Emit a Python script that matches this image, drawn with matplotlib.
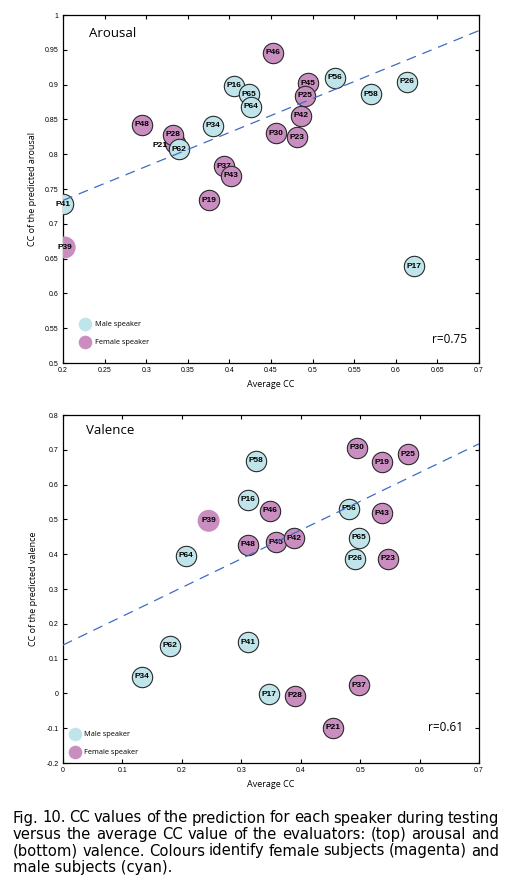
import numpy as np
import matplotlib.pyplot as plt
from matplotlib.lines import Line2D

# --- arousal panel data (draw order: later points on top) ---
ar_names = ['P41', 'P39', 'P48', 'P21', 'P28', 'P62', 'P34', 'P19', 'P37', 'P43',
            'P16', 'P65', 'P64', 'P46', 'P30', 'P23', 'P42', 'P45', 'P25', 'P56',
            'P58', 'P26', 'P17']
ar_avg = [0.200, 0.202, 0.295, 0.335, 0.332, 0.339, 0.380, 0.376, 0.3935, 0.402,
          0.406, 0.424, 0.426, 0.452, 0.456, 0.481, 0.486, 0.494, 0.491, 0.527,
          0.570, 0.613, 0.622]
ar_pred = [0.728, 0.666, 0.842, 0.816, 0.828, 0.807, 0.841, 0.734, 0.783, 0.769,
           0.898, 0.886, 0.868, 0.946, 0.830, 0.824, 0.855, 0.902, 0.884, 0.910,
           0.886, 0.904, 0.639]
ar_sex = ['M', 'F', 'F', 'F', 'F', 'M', 'M', 'F', 'F', 'F',
          'M', 'M', 'M', 'F', 'F', 'F', 'F', 'F', 'F', 'M',
          'M', 'M', 'M']
ar_fit = (0.488, 0.636)   # slope, intercept of dashed line
ar_r = 0.75

# --- valence panel data ---
va_names = ['P34', 'P62', 'P64', 'P39', 'P41', 'P58', 'P16', 'P46', 'P48', 'P45',
            'P42', 'P17', 'P28', 'P21', 'P37', 'P30', 'P19', 'P25', 'P56', 'P43',
            'P65', 'P26', 'P23']
va_avg = [0.1335, 0.1806, 0.2075, 0.245, 0.311, 0.324, 0.311, 0.348, 0.311, 0.358,
          0.389, 0.3466, 0.390, 0.454, 0.498, 0.495, 0.536, 0.581, 0.481, 0.537,
          0.498, 0.492, 0.547]
va_pred = [0.048, 0.137, 0.395, 0.496, 0.147, 0.668, 0.556, 0.525, 0.427, 0.435,
           0.446, -0.002, -0.007, -0.099, 0.023, 0.706, 0.664, 0.687, 0.530, 0.517,
           0.447, 0.387, 0.387]
va_sex = ['M', 'M', 'M', 'F', 'M', 'M', 'M', 'F', 'F', 'F',
          'F', 'M', 'F', 'F', 'F', 'F', 'F', 'F', 'M', 'F',
          'M', 'M', 'F']
va_fit = (0.826, 0.139)
va_r = 0.61

no_edge = ['P39']
label_shift = {'P21': (-11, -2)}   # label drawn beside its hidden circle (arousal)

caption_lines = [
    "Fig. 10. CC values of the prediction for each speaker during testing",
    "versus the average CC value of the evaluators: (top) arousal and",
    "(bottom) valence. Colours identify female subjects (magenta) and",
    "male subjects (cyan).",
]

male_c = '#bfe5ea'
female_c = '#c98dc0'
line_c = '#3d6cc6'
lab_font = 'Open Sans'
tick_font = 'Liberation Sans'


def panel(ax, names, avg, pred, sex, fit, r, title, xlim, ylim, xticks, yticks,
          ylabel, leg_anchor, title_xy, r_xy, shift):
    for i, (n, x, y, s) in enumerate(zip(names, avg, pred, sex)):
        col = male_c if s == 'M' else female_c
        if n in no_edge:
            ax.scatter(x, y, s=250, c=col, edgecolors='none', zorder=3 + 2 * i)
        else:
            ax.scatter(x, y, s=215, c=col, edgecolors='#2a2a2a', linewidths=0.8,
                       zorder=3 + 2 * i)
        off = shift.get(n, (0, 0))
        ax.annotate(n, (x, y), xytext=off, textcoords='offset points',
                    ha='center', va='center', fontsize=6, fontweight='bold',
                    family=tick_font, zorder=200 if n in shift else 4 + 2 * i)

    xs = np.array(xlim)
    ax.plot(xs, fit[0] * xs + fit[1], color=line_c, lw=0.9,
            linestyle=(0, (8, 5.5)), zorder=150)

    ax.set_xlim(xlim)
    ax.set_ylim(ylim)
    ax.set_xticks(xticks)
    ax.set_xticklabels([f'{v:g}' for v in np.round(xticks, 2)])
    ax.set_yticks(yticks)
    ax.set_yticklabels([f'{v:g}' for v in np.round(yticks, 2)])
    ax.tick_params(direction='in', top=True, right=True, length=3, width=0.8,
                   labelsize=5, pad=3)
    for lab in ax.get_xticklabels() + ax.get_yticklabels():
        lab.set_family(tick_font)
    for sp in ax.spines.values():
        sp.set_linewidth(0.9)

    ax.set_xlabel('Average CC', family=lab_font, fontsize=6.5, labelpad=4)
    ax.set_ylabel(ylabel, family=lab_font, fontsize=6.5, labelpad=6)
    ax.text(title_xy[0], title_xy[1], title, family=lab_font, fontsize=9.5,
            ha='left', va='center')
    ax.text(r_xy[0], r_xy[1], f'r={r}', family=lab_font, fontsize=8.5,
            ha='right', va='center')

    handles = [Line2D([], [], marker='o', ls='none', markersize=9.8,
                      markerfacecolor=male_c, markeredgecolor='none'),
               Line2D([], [], marker='o', ls='none', markersize=9.8,
                      markerfacecolor=female_c, markeredgecolor='none')]
    leg = ax.legend(handles, ['Male speaker', 'Female speaker'], loc='upper left',
                    bbox_to_anchor=leg_anchor, frameon=False, borderpad=0,
                    borderaxespad=0, handlelength=1.0, handletextpad=0.8,
                    labelspacing=1.45, prop={'family': lab_font, 'size': 5.3})
    leg.set_zorder(300)


fig = plt.figure(figsize=(5.08, 8.83), dpi=100)
W, H = 508, 883
ax1 = fig.add_axes([63 / W, 1 - 363 / H, 416 / W, 348 / H])
ax2 = fig.add_axes([63 / W, 1 - 763 / H, 416 / W, 348 / H])

panel(ax1, ar_names, ar_avg, ar_pred, ar_sex, ar_fit, ar_r, 'Arousal',
      (0.2, 0.7), (0.5, 1.0), np.arange(0.2, 0.701, 0.05), np.arange(0.5, 1.001, 0.05),
      'CC of the predicted arousal', (0.045, 0.120), (0.231, 0.973), (0.686, 0.534),
      label_shift)
panel(ax2, va_names, va_avg, va_pred, va_sex, va_fit, va_r, 'Valence',
      (0.0, 0.7), (-0.2, 0.8), np.arange(0.0, 0.701, 0.1), np.arange(-0.2, 0.801, 0.1),
      'CC of the predicted valence', (0.019, 0.091), (0.038, 0.755), (0.673, -0.099),
      {})

# justified caption
cap_font = 'DejaVu Sans'
cap_size = 10.6
r_ = fig.canvas.get_renderer()
x0, x1 = 13, 499
base = [822.5, 839, 855.5, 872]
for k, line in enumerate(caption_lines):
    yf = 1 - base[k] / H
    if k == len(caption_lines) - 1:
        fig.text(x0 / W, yf, line, family=cap_font, fontsize=cap_size, va='baseline')
        continue
    words = line.split()
    texts = [fig.text(0, yf, w, family=cap_font, fontsize=cap_size, va='baseline')
             for w in words]
    widths = [t.get_window_extent(r_).width for t in texts]
    gap = (x1 - x0 - sum(widths)) / (len(words) - 1)
    x = x0
    for t, w in zip(texts, widths):
        t.set_x(x / W)
        x += w + gap

fig.savefig('out.png', dpi=100)
